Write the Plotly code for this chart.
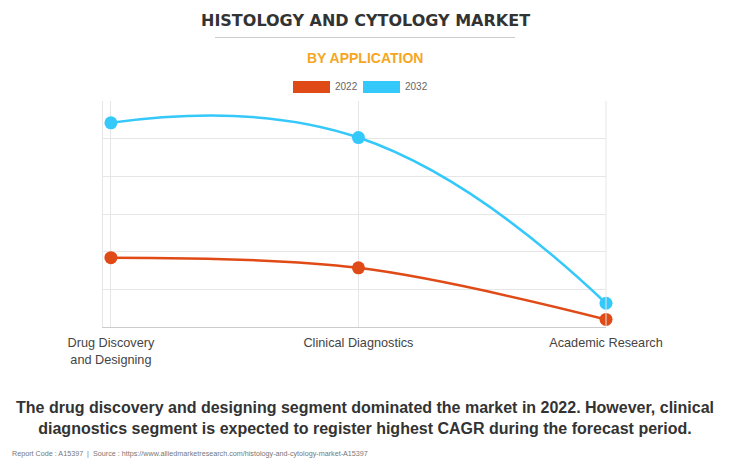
import plotly.graph_objects as go

categories = ["Drug Discovery<br>and Designing", "Clinical Diagnostics", "Academic Research"]
values_2022 = [1.84, 1.57, 0.20]
values_2032 = [5.42, 5.03, 0.63]
series_names = ["2022", "2032"]
colors = ["#E04A17", "#35C8FB"]
smooth = [1.0, 1.3]

fig = go.Figure()
for name, vals, col, sm in zip(series_names, [values_2022, values_2032], colors, smooth):
    fig.add_trace(go.Scatter(
        x=categories, y=vals, name=name, mode="lines+markers",
        line=dict(color=col, width=2.5, shape="spline", smoothing=sm),
        marker=dict(color=col, size=13),
        showlegend=False, cliponaxis=False,
    ))

W, H = 730, 473
PL, PR, PT, PB = 103, 606, 101, 327
PW, PH = PR - PL, PB - PT

def px(x):
    return (x - PL) / PW

def py(y):
    return (PB - y) / PH

fig.update_layout(
    width=W, height=H,
    margin=dict(l=PL, r=W - PR, t=PT, b=H - PB),
    paper_bgcolor="#FFFFFF", plot_bgcolor="#FFFFFF",
    font=dict(family="Liberation Sans, Arial, sans-serif", color="#444"),
    xaxis=dict(
        type="category", range=[-0.032, 2.0],
        showgrid=True, gridcolor="#E6E6E6", gridwidth=1,
        showline=True, linecolor="#CCCCCC", linewidth=1,
        ticks="", tickfont=dict(size=12.7, color="#444"), zeroline=False,
        ticklabelstandoff=4,
    ),
    yaxis=dict(
        range=[0, 6], dtick=1, showticklabels=False,
        showgrid=True, gridcolor="#E6E6E6", gridwidth=1,
        showline=True, linecolor="#E6E6E6", zeroline=False, ticks="",
    ),
    showlegend=False,
)

fig.add_shape(type="line", xref="paper", yref="paper", x0=1, x1=1, y0=0, y1=1,
              line=dict(color="#E6E6E6", width=1))

CX = px(365)
fig.add_annotation(text="<b>HISTOLOGY AND CYTOLOGY MARKET</b>", xref="paper", yref="paper",
                   x=CX, y=py(20), showarrow=False,
                   font=dict(family="DejaVu Sans, Liberation Sans, Arial", size=16, color="#333333"),
                   xanchor="center", yanchor="middle")
fig.add_shape(type="line", xref="paper", yref="paper",
              x0=px(215), x1=px(515), y0=py(37.5), y1=py(37.5),
              line=dict(color="#CCCCCC", width=1))
fig.add_annotation(text="<b>BY APPLICATION</b>", xref="paper", yref="paper",
                   x=CX, y=py(58), showarrow=False,
                   font=dict(family="Liberation Sans, Arial", size=14, color="#F5A623"),
                   xanchor="center", yanchor="middle")

leg = [(293, 330, "2022", colors[0]), (363, 400, "2032", colors[1])]
for x0, x1, lab, col in leg:
    fig.add_shape(type="rect", xref="paper", yref="paper",
                  x0=px(x0), x1=px(x1), y0=py(93), y1=py(81),
                  fillcolor=col, line=dict(width=0))
    fig.add_annotation(text=lab, xref="paper", yref="paper",
                       x=px(x1 + 3), y=py(87), showarrow=False,
                       font=dict(size=10, color="#666666"), xanchor="left", yanchor="middle")

fig.add_annotation(text="<b>The drug discovery and designing segment dominated the market in 2022. However, clinical<br>diagnostics segment is expected to register highest CAGR during the forecast period.</b>",
                   xref="paper", yref="paper", x=CX, y=py(418),
                   showarrow=False, font=dict(size=16, color="#333333"),
                   xanchor="center", yanchor="middle", align="center")
fig.add_annotation(text="Report Code : A15397  |  Source : https://www.alliedmarketresearch.com/histology-and-cytology-market-A15397",
                   xref="paper", yref="paper", x=px(10), y=py(453),
                   showarrow=False,
                   font=dict(family="Liberation Sans, Arial", size=7.2, color="#777777"),
                   xanchor="left", yanchor="middle")

fig.write_html("out.html", config={"displayModeBar": False},
               post_script="document.body.style.margin='0';document.body.style.overflow='hidden';")
